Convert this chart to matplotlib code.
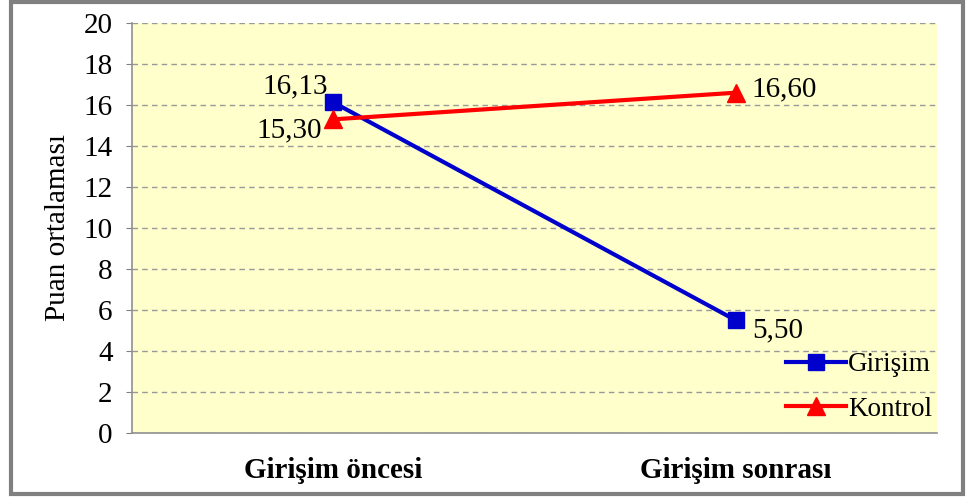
import matplotlib.pyplot as plt
from matplotlib.patches import Rectangle

categories = ['Girişim öncesi', 'Girişim sonrası']
girisim = [16.13, 5.50]
kontrol = [15.30, 16.60]
yticks = list(range(0, 21, 2))

plt.rcParams['font.family'] = ['Liberation Serif', 'DejaVu Serif']

fig = plt.figure(figsize=(9.66, 4.99), dpi=100)
ax = fig.add_axes([132/966, 1-433/499, (937-132)/966, (433-23)/499])
ax.set_facecolor('#FFFFCC')

x = list(range(len(categories)))
ax.plot(x, girisim, color='#0000CC', lw=3, marker='s', ms=11, label='Girişim', zorder=3)
ax.plot(x, kontrol, color='#FF0000', lw=3, marker='^', ms=13, label='Kontrol', zorder=3)

fmt = lambda v: f'{v:.2f}'.replace('.', ',')
lab = dict(textcoords='offset points', va='baseline', fontsize=21)
ax.annotate(fmt(girisim[0]), (x[0], girisim[0]), xytext=(-4, 6.5), ha='right', **lab)
ax.annotate(fmt(kontrol[0]), (x[0], kontrol[0]), xytext=(-8, -13), ha='right', **lab)
ax.annotate(fmt(kontrol[1]), (x[1], kontrol[1]), xytext=(11.5, -3), ha='left', **lab)
ax.annotate(fmt(girisim[1]), (x[1], girisim[1]), xytext=(11.5, -12), ha='left', **lab)

ax.set_xlim(-0.5, 1.5)
ax.set_ylim(0, 20)
ax.set_yticks(yticks)
ax.set_xticks(x)
ax.set_xticklabels(categories, fontsize=21, fontweight='bold')
ax.tick_params(axis='x', length=0, pad=17)
ax.tick_params(axis='y', labelsize=21, length=4, color='#808080', pad=10)
ax.grid(axis='y', linestyle=(0, (4, 3)), color='#999999', lw=1)
ax.set_axisbelow(True)
for s in ['top', 'right']:
    ax.spines[s].set_visible(False)
for s in ['left', 'bottom']:
    ax.spines[s].set_color('#909090')
    ax.spines[s].set_linewidth(1.2)
ax.set_ylabel('Puan ortalaması', fontsize=21, labelpad=9)

ax.legend(loc='lower right', frameon=False, fontsize=19.5, handlelength=2.2,
          handletextpad=0.1, borderaxespad=0.1, labelspacing=0.72,
          bbox_to_anchor=(1.011, -0.005))

fig.patches.append(Rectangle((11/966, 5/499), 952/966, 492/499, transform=fig.transFigure,
                             fill=False, edgecolor='#808080', lw=3))

fig.savefig('out.png', dpi=100)
